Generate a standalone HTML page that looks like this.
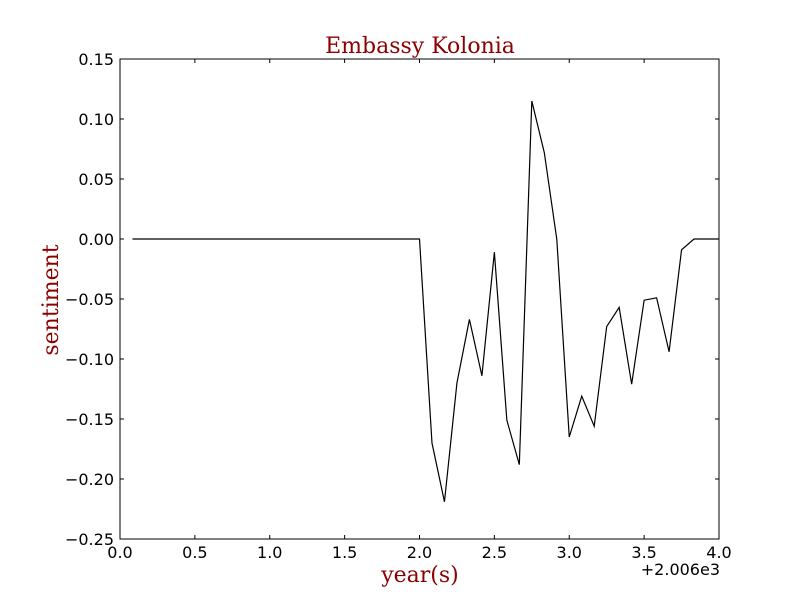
<!DOCTYPE html>
<html><head><meta charset="utf-8"><style>
body{margin:0;background:#fff;}
svg{display:block;}
.tick{font-family:"DejaVu Sans","Liberation Sans",sans-serif;font-size:16px;fill:#000;}
.lab{font-family:"DejaVu Serif","Liberation Serif",serif;font-size:22px;fill:#8b0000;}
</style></head><body>
<svg id="chart" width="800" height="600"></svg>
<script>
const xTicks=[0.0,0.5,1.0,1.5,2.0,2.5,3.0,3.5,4.0];
const xTickLabels=["0.0","0.5","1.0","1.5","2.0","2.5","3.0","3.5","4.0"];
const yTicks=[0.15,0.10,0.05,0.00,-0.05,-0.10,-0.15,-0.20,-0.25];
const yTickLabels=["0.15","0.10","0.05","0.00","\u22120.05","\u22120.10","\u22120.15","\u22120.20","\u22120.25"];
const monthIndex=[1,2,3,4,5,6,7,8,9,10,11,12,13,14,15,16,17,18,19,20,21,22,23,24,25,26,27,28,29,30,31,32,33,34,35,36,37,38,39,40,41,42,43,44,45,46,47,48];
const sentiment=[0,0,0,0,0,0,0,0,0,0,0,0,0,0,0,0,0,0,0,0,0,0,0,0,
-0.17,-0.219,-0.12,-0.067,-0.114,-0.011,-0.151,-0.188,0.115,0.072,0.0,-0.165,
-0.131,-0.156,-0.073,-0.057,-0.121,-0.051,-0.049,-0.094,-0.009,0.0,0.0,0.0];
const L=120,R=719,T=59,B=539;
const xs=v=>L+(v-0)/(4-0)*(R-L);
const ys=v=>B-(v+0.25)/(0.4)*(B-T);
const svg=document.getElementById('chart');
const NS='http://www.w3.org/2000/svg';
function mk(t,a){const e=document.createElementNS(NS,t);for(const k in a)e.setAttribute(k,a[k]);svg.appendChild(e);return e;}
let d='';
monthIndex.forEach((m,i)=>{d+=(i?'L':'M')+xs(m/12).toFixed(2)+' '+ys(sentiment[i]).toFixed(2);});
const line=mk('path',{d:d,fill:'none',stroke:'#000','stroke-width':1.2});


const frame=mk('rect',{x:L,y:T,width:R-L,height:B-T,fill:'none',stroke:'#000','stroke-width':1});


xTicks.forEach((v,i)=>{const x=xs(v);
mk('line',{x1:x,x2:x,y1:B,y2:B-4,stroke:'#000'});mk('line',{x1:x,x2:x,y1:T,y2:T+4,stroke:'#000'});
const t=mk('text',{x:x,y:B+19,'text-anchor':'middle',class:'tick'});t.textContent=xTickLabels[i];

});
yTicks.forEach((v,i)=>{const y=ys(v);
mk('line',{x1:L,x2:L+4,y1:y,y2:y,stroke:'#000'});mk('line',{x1:R,x2:R-4,y1:y,y2:y,stroke:'#000'});
const t=mk('text',{x:L-6,y:y+6,'text-anchor':'end',class:'tick'});t.textContent=yTickLabels[i];

});
const off=mk('text',{x:720,y:575,'text-anchor':'end',class:'tick'});off.textContent='+2.006e3';


const ti=mk('text',{x:420,y:53,'text-anchor':'middle',class:'lab'});ti.textContent='Embassy Kolonia';


const xl=mk('text',{x:420,y:582,'text-anchor':'middle',class:'lab'});xl.textContent='year(s)';


const yl=mk('text',{x:58,y:300,'text-anchor':'middle',class:'lab',transform:'rotate(-90 58 300)'});yl.textContent='sentiment';


</script>
</body></html>
